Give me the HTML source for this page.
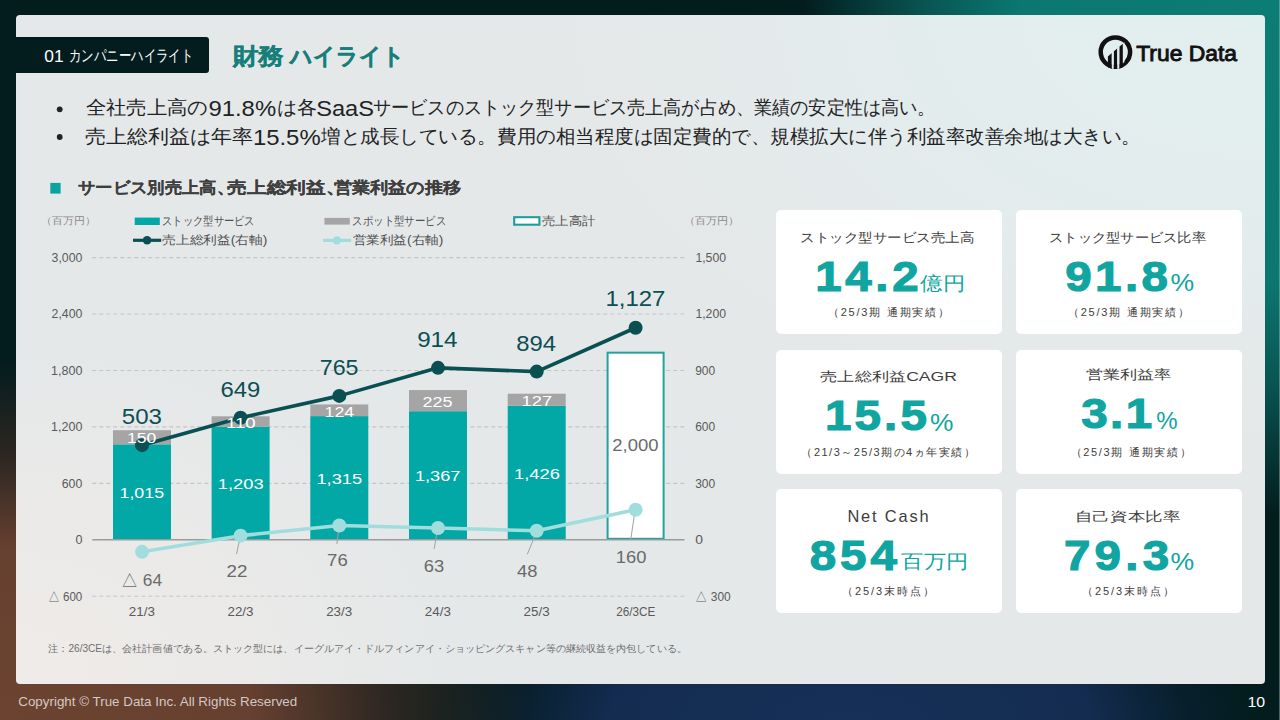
<!DOCTYPE html>
<html lang="ja">
<head>
<meta charset="utf-8">
<title>財務ハイライト</title>
<style>
*{margin:0;padding:0;box-sizing:border-box}
html,body{width:1280px;height:720px;overflow:hidden}
body{position:relative;font-family:"Liberation Sans",sans-serif;
background:
 radial-gradient(ellipse 520px 560px at 1280px 0px, #0c7d75 0%, #0b7770 50%, rgba(10,105,100,0.75) 68%, rgba(3,28,30,0) 92%),
 radial-gradient(ellipse 560px 380px at 0px 720px, #6c4330 0%, #664030 45%, rgba(70,45,35,0.6) 70%, rgba(3,28,30,0) 95%),
 radial-gradient(ellipse 400px 200px at 850px 730px, #163058 0%, #142c50 60%, rgba(14,36,64,0.4) 85%, rgba(3,28,30,0) 100%),
 #031c1e;}
.card{position:absolute;left:16px;top:15px;width:1248.5px;height:669px;border-radius:4px;
background:
 radial-gradient(ellipse 420px 330px at 0px 668px, #efebe8 0%, rgba(239,235,232,0.6) 50%, rgba(239,235,232,0) 100%),
 radial-gradient(ellipse 700px 420px at 1248px 0px, #e2efef 0%, rgba(226,239,239,0.6) 50%, rgba(226,239,239,0) 100%),
 #e5e8e9}
.tab{position:absolute;left:16px;top:37px;width:193px;height:36px;background:#031d1f;border-radius:0 3px 3px 0}
.kpi{position:absolute;width:226px;height:124px;background:#fff;border-radius:5px}
svg.ov{position:absolute;left:0;top:0}
</style>
</head>
<body>
<div class="card"></div>
<div class="tab"></div>
<div style="position:absolute;left:1279px;top:0;width:1px;height:720px;background:rgba(190,205,205,0.4)"></div>
<div class="kpi" style="left:776px;top:210px"></div>
<div class="kpi" style="left:1016px;top:210px"></div>
<div class="kpi" style="left:776px;top:350px"></div>
<div class="kpi" style="left:1016px;top:350px"></div>
<div class="kpi" style="left:776px;top:489px"></div>
<div class="kpi" style="left:1016px;top:489px"></div>
<svg class="ov" width="1280" height="720" viewBox="0 0 1280 720">
<line x1="92.3" y1="257.60" x2="684.5" y2="257.60" stroke="#c3c6c7" stroke-width="1.1" stroke-dasharray="4 3"/>
<line x1="92.3" y1="314.04" x2="684.5" y2="314.04" stroke="#c3c6c7" stroke-width="1.1" stroke-dasharray="4 3"/>
<line x1="92.3" y1="370.48" x2="684.5" y2="370.48" stroke="#c3c6c7" stroke-width="1.1" stroke-dasharray="4 3"/>
<line x1="92.3" y1="426.92" x2="684.5" y2="426.92" stroke="#c3c6c7" stroke-width="1.1" stroke-dasharray="4 3"/>
<line x1="92.3" y1="483.36" x2="684.5" y2="483.36" stroke="#c3c6c7" stroke-width="1.1" stroke-dasharray="4 3"/>
<line x1="92.3" y1="596.24" x2="684.5" y2="596.24" stroke="#c3c6c7" stroke-width="1.1" stroke-dasharray="4 3"/>
<rect x="113.00" y="444.32" width="58" height="95.48" fill="#01a8a6"/>
<rect x="113.00" y="430.21" width="58" height="14.11" fill="#a5a5a5"/>
<rect x="211.60" y="426.64" width="58" height="113.16" fill="#01a8a6"/>
<rect x="211.60" y="416.29" width="58" height="10.35" fill="#a5a5a5"/>
<rect x="310.30" y="416.10" width="58" height="123.70" fill="#01a8a6"/>
<rect x="310.30" y="404.44" width="58" height="11.66" fill="#a5a5a5"/>
<rect x="409.00" y="411.21" width="58" height="128.59" fill="#01a8a6"/>
<rect x="409.00" y="390.05" width="58" height="21.16" fill="#a5a5a5"/>
<rect x="507.70" y="405.66" width="58" height="134.14" fill="#01a8a6"/>
<rect x="507.70" y="393.71" width="58" height="11.95" fill="#a5a5a5"/>
<rect x="607.60" y="352.67" width="56" height="186.13" fill="#ffffff" stroke="#23a19e" stroke-width="2"/>
<line x1="92.3" y1="539.8" x2="684.5" y2="539.8" stroke="#999b9c" stroke-width="1.6"/>
<line x1="240.3" y1="536.6" x2="236.5" y2="554" stroke="#a3a3a3" stroke-width="1"/>
<line x1="339" y1="526.2" x2="336.9" y2="544" stroke="#a3a3a3" stroke-width="1"/>
<line x1="437.8" y1="528.1" x2="434.1" y2="549.1" stroke="#a3a3a3" stroke-width="1"/>
<line x1="536.6" y1="531.5" x2="527.3" y2="554.4" stroke="#a3a3a3" stroke-width="1"/>
<line x1="635.1" y1="510" x2="630.7" y2="540" stroke="#a3a3a3" stroke-width="1"/>
<polyline points="142.0,551.84 240.6,535.66 339.3,525.50 438.0,527.95 536.7,530.77 635.6,509.70" fill="none" stroke="#a2dddd" stroke-width="3.6" stroke-linejoin="round"/>
<circle cx="142.0" cy="551.84" r="7" fill="#a2dddd"/>
<circle cx="240.6" cy="535.66" r="7" fill="#a2dddd"/>
<circle cx="339.3" cy="525.50" r="7" fill="#a2dddd"/>
<circle cx="438.0" cy="527.95" r="7" fill="#a2dddd"/>
<circle cx="536.7" cy="530.77" r="7" fill="#a2dddd"/>
<circle cx="635.6" cy="509.70" r="7" fill="#a2dddd"/>
<polyline points="142.0,445.17 240.6,417.70 339.3,395.88 438.0,367.85 536.7,371.61 635.6,327.77" fill="none" stroke="#0a5052" stroke-width="3.6" stroke-linejoin="round"/>
<circle cx="142.0" cy="445.17" r="7" fill="#0a5052"/>
<circle cx="240.6" cy="417.70" r="7" fill="#0a5052"/>
<circle cx="339.3" cy="395.88" r="7" fill="#0a5052"/>
<circle cx="438.0" cy="367.85" r="7" fill="#0a5052"/>
<circle cx="536.7" cy="371.61" r="7" fill="#0a5052"/>
<circle cx="635.6" cy="327.77" r="7" fill="#0a5052"/>
<rect x="134.7" y="217.6" width="25.1" height="7.4" fill="#01a8a6"/>
<rect x="324.4" y="217.9" width="25.4" height="6.7" fill="#a5a5a5"/>
<rect x="514.2" y="217.2" width="25.2" height="7.5" fill="#ffffff" stroke="#1d9e9a" stroke-width="2.1"/>
<line x1="133" y1="240.3" x2="161.2" y2="240.3" stroke="#0a5052" stroke-width="3.2"/><circle cx="147.1" cy="240.3" r="4.3" fill="#0a5052"/>
<line x1="323.1" y1="240.4" x2="351" y2="240.4" stroke="#a2dddd" stroke-width="3.2"/><circle cx="337" cy="240.4" r="4.2" fill="#a2dddd"/>
<rect x="50.3" y="182.9" width="10.3" height="10.7" fill="#07a4a0"/>
<circle cx="59.7" cy="109.3" r="2.9" fill="#1e2324"/><circle cx="59.7" cy="137" r="2.9" fill="#1e2324"/>
<defs><clipPath id="lc"><circle cx="1115.4" cy="52.1" r="16.9"/></clipPath></defs>
<circle cx="1115.4" cy="52.1" r="14.7" fill="none" stroke="#111" stroke-width="4.5"/>
<g clip-path="url(#lc)">
<polygon points="1107.9,56.40 1111.8,53.09 1111.8,72 1107.9,72" fill="#111"/>
<polygon points="1113.7,51.47 1117.3,48.41 1117.3,72 1113.7,72" fill="#111"/>
<polygon points="1119.3,46.71 1122.9,43.65 1122.9,72 1119.3,72" fill="#111"/>
</g>
<g clip-path="url(#lc)" fill="#e3eded">
<polygon points="1111.8,53.09 1113.7,51.47 1113.7,72 1111.8,72"/>
<polygon points="1117.3,48.41 1119.3,46.71 1119.3,72 1117.3,72"/>
</g>
<polygon points="1122.9,43.65 1124.4,41.88 1124.4,62 1122.9,63.5" fill="#e3eded"/>
</svg>
<svg class="ov" width="1280" height="720" viewBox="0 0 1280 720" font-family="Liberation Sans, sans-serif">
<text x="44.25" y="61.55" font-size="16.15" font-weight="normal" fill="#ffffff" textLength="19.35" lengthAdjust="spacingAndGlyphs">01</text>
<text x="69.05" y="60.95" font-size="15.98" font-weight="normal" fill="#ffffff" textLength="124.20" lengthAdjust="spacingAndGlyphs">カンパニーハイライト</text>
<text x="232.70" y="64.20" font-size="23.20" font-weight="bold" fill="#177f7a" textLength="50.85" lengthAdjust="spacingAndGlyphs" stroke="#177f7a" stroke-width="0.40">財務</text>
<text x="290.25" y="64.20" font-size="23.20" font-weight="bold" fill="#177f7a" textLength="114.30" lengthAdjust="spacingAndGlyphs" stroke="#177f7a" stroke-width="0.40">ハイライト</text>
<text x="162.05" y="225.35" font-size="12.10" font-weight="normal" fill="#505050" textLength="92.70" lengthAdjust="spacingAndGlyphs">ストック型サービス</text>
<text x="352.35" y="225.35" font-size="12.10" font-weight="normal" fill="#505050" textLength="93.80" lengthAdjust="spacingAndGlyphs">スポット型サービス</text>
<text x="542.10" y="224.65" font-size="12.10" font-weight="normal" fill="#505050" textLength="53.20" lengthAdjust="spacingAndGlyphs">売上高計</text>
<text x="162.30" y="243.75" font-size="12.10" font-weight="normal" fill="#505050" textLength="105.10" lengthAdjust="spacingAndGlyphs">売上総利益(右軸)</text>
<text x="352.60" y="243.75" font-size="12.10" font-weight="normal" fill="#505050" textLength="90.80" lengthAdjust="spacingAndGlyphs">営業利益(右軸)</text>
<text x="41.10" y="224.40" font-size="9.82" font-weight="normal" fill="#8a8a8a" textLength="54.80" lengthAdjust="spacingAndGlyphs">（百万円）</text>
<text x="683.50" y="224.40" font-size="9.82" font-weight="normal" fill="#8a8a8a" textLength="56.15" lengthAdjust="spacingAndGlyphs">（百万円）</text>
<text x="800.35" y="242.45" font-size="13.32" font-weight="normal" fill="#3d3d3d" textLength="173.95" lengthAdjust="spacingAndGlyphs">ストック型サービス売上高</text>
<text transform="translate(815.25,290.55) scale(1.1,1)" font-size="43.18" font-weight="bold" fill="#10a5a0" textLength="93.93" lengthAdjust="spacing" stroke="#10a5a0" stroke-width="1.20">14.2</text>
<text x="920.40" y="290.15" font-size="18.86" font-weight="normal" fill="#10a5a0" textLength="44.80" lengthAdjust="spacingAndGlyphs">億円</text>
<text x="827.85" y="315.85" font-size="11.00" font-weight="normal" fill="#3d3d3d" textLength="121.05" lengthAdjust="spacing">（25/3期 通期実績）</text>
<text x="1049.15" y="242.45" font-size="13.32" font-weight="normal" fill="#3d3d3d" textLength="156.80" lengthAdjust="spacingAndGlyphs">ストック型サービス比率</text>
<text transform="translate(1065.30,290.55) scale(1.1,1)" font-size="43.18" font-weight="bold" fill="#10a5a0" textLength="93.34" lengthAdjust="spacing" stroke="#10a5a0" stroke-width="1.20">91.8</text>
<text x="1170.40" y="290.90" font-size="24.01" font-weight="normal" fill="#10a5a0" textLength="23.65" lengthAdjust="spacingAndGlyphs">%</text>
<text x="1067.85" y="315.85" font-size="11.00" font-weight="normal" fill="#3d3d3d" textLength="121.05" lengthAdjust="spacing">（25/3期 通期実績）</text>
<text x="820.25" y="381.30" font-size="13.32" font-weight="normal" fill="#3d3d3d" textLength="136.70" lengthAdjust="spacingAndGlyphs">売上総利益CAGR</text>
<text transform="translate(824.95,430.05) scale(1.1,1)" font-size="43.18" font-weight="bold" fill="#10a5a0" textLength="92.63" lengthAdjust="spacing" stroke="#10a5a0" stroke-width="1.20">15.5</text>
<text x="930.00" y="430.90" font-size="24.01" font-weight="normal" fill="#10a5a0" textLength="23.45" lengthAdjust="spacingAndGlyphs">%</text>
<text x="801.45" y="455.85" font-size="11.00" font-weight="normal" fill="#3d3d3d" textLength="173.05" lengthAdjust="spacing">（21/3～25/3期の4ヵ年実績）</text>
<text x="1085.80" y="378.95" font-size="13.32" font-weight="normal" fill="#3d3d3d" textLength="85.65" lengthAdjust="spacingAndGlyphs">営業利益率</text>
<text transform="translate(1081.20,428.05) scale(1.1,1)" font-size="43.18" font-weight="bold" fill="#10a5a0" textLength="64.54" lengthAdjust="spacing" stroke="#10a5a0" stroke-width="1.20">3.1</text>
<text x="1156.15" y="429.20" font-size="24.01" font-weight="normal" fill="#10a5a0" textLength="21.35" lengthAdjust="spacingAndGlyphs">%</text>
<text x="1070.55" y="455.85" font-size="11.00" font-weight="normal" fill="#3d3d3d" textLength="120.05" lengthAdjust="spacing">（25/3期 通期実績）</text>
<text x="847.45" y="521.95" font-size="16.40" font-weight="normal" fill="#3d3d3d" textLength="81.10" lengthAdjust="spacing">Net Cash</text>
<text transform="translate(809.65,569.55) scale(1.1,1)" font-size="43.18" font-weight="bold" fill="#10a5a0" textLength="79.42" lengthAdjust="spacing" stroke="#10a5a0" stroke-width="1.20">854</text>
<text x="901.20" y="567.90" font-size="18.86" font-weight="normal" fill="#10a5a0" textLength="66.95" lengthAdjust="spacingAndGlyphs">百万円</text>
<text x="842.05" y="594.60" font-size="11.00" font-weight="normal" fill="#3d3d3d" textLength="91.90" lengthAdjust="spacing">（25/3末時点）</text>
<text x="1074.90" y="520.55" font-size="13.32" font-weight="normal" fill="#3d3d3d" textLength="105.30" lengthAdjust="spacingAndGlyphs">自己資本比率</text>
<text transform="translate(1063.90,569.55) scale(1.1,1)" font-size="43.18" font-weight="bold" fill="#10a5a0" textLength="95.75" lengthAdjust="spacing" stroke="#10a5a0" stroke-width="1.20">79.3</text>
<text x="1170.40" y="569.90" font-size="24.01" font-weight="normal" fill="#10a5a0" textLength="23.65" lengthAdjust="spacingAndGlyphs">%</text>
<text x="1082.05" y="594.60" font-size="11.00" font-weight="normal" fill="#3d3d3d" textLength="91.90" lengthAdjust="spacing">（25/3末時点）</text>
<text x="48.25" y="652.00" font-size="10.00" font-weight="normal" fill="#6f6f6f" textLength="638.50" lengthAdjust="spacingAndGlyphs">注：26/3CEは、会社計画値である。ストック型には、イーグルアイ・ドルフィンアイ・ショッピングスキャン等の継続収益を内包している。</text>
<text x="18.25" y="705.65" font-size="12.23" font-weight="normal" fill="rgba(255,255,255,0.72)" textLength="279.00" lengthAdjust="spacingAndGlyphs">Copyright © True Data Inc. All Rights Reserved</text>
<text x="1247.55" y="707.30" font-size="15.17" font-weight="normal" fill="#ffffff" textLength="17.65" lengthAdjust="spacingAndGlyphs">10</text>
<text x="1136.25" y="61.45" font-size="22.34" font-weight="normal" fill="#111111" textLength="100.75" lengthAdjust="spacingAndGlyphs" stroke="#111111" stroke-width="0.90">True Data</text>
<text x="121.80" y="424.05" font-size="22.43" font-weight="normal" fill="#0b4f52" textLength="40.20" lengthAdjust="spacingAndGlyphs">503</text>
<text x="220.55" y="396.85" font-size="22.43" font-weight="normal" fill="#0b4f52" textLength="39.85" lengthAdjust="spacingAndGlyphs">649</text>
<text x="319.75" y="374.75" font-size="22.43" font-weight="normal" fill="#0b4f52" textLength="38.75" lengthAdjust="spacingAndGlyphs">765</text>
<text x="417.15" y="347.05" font-size="22.43" font-weight="normal" fill="#0b4f52" textLength="40.45" lengthAdjust="spacingAndGlyphs">914</text>
<text x="516.30" y="350.55" font-size="22.43" font-weight="normal" fill="#0b4f52" textLength="39.75" lengthAdjust="spacingAndGlyphs">894</text>
<text x="605.45" y="305.95" font-size="22.43" font-weight="normal" fill="#0b4f52" textLength="60.00" lengthAdjust="spacingAndGlyphs">1,127</text>
<text x="119.55" y="498.15" font-size="15.47" font-weight="normal" fill="#ffffff" textLength="44.50" lengthAdjust="spacingAndGlyphs">1,015</text>
<text x="217.80" y="489.05" font-size="15.47" font-weight="normal" fill="#ffffff" textLength="45.95" lengthAdjust="spacingAndGlyphs">1,203</text>
<text x="316.40" y="483.75" font-size="15.47" font-weight="normal" fill="#ffffff" textLength="45.80" lengthAdjust="spacingAndGlyphs">1,315</text>
<text x="414.90" y="480.85" font-size="15.47" font-weight="normal" fill="#ffffff" textLength="45.60" lengthAdjust="spacingAndGlyphs">1,367</text>
<text x="514.00" y="479.35" font-size="15.47" font-weight="normal" fill="#ffffff" textLength="45.90" lengthAdjust="spacingAndGlyphs">1,426</text>
<text x="127.05" y="442.95" font-size="15.47" font-weight="normal" fill="#ffffff" textLength="29.35" lengthAdjust="spacingAndGlyphs">150</text>
<text x="225.90" y="427.85" font-size="15.47" font-weight="normal" fill="#ffffff" textLength="29.75" lengthAdjust="spacingAndGlyphs">110</text>
<text x="324.55" y="416.55" font-size="15.47" font-weight="normal" fill="#ffffff" textLength="29.60" lengthAdjust="spacingAndGlyphs">124</text>
<text x="422.60" y="407.15" font-size="15.47" font-weight="normal" fill="#ffffff" textLength="30.05" lengthAdjust="spacingAndGlyphs">225</text>
<text x="521.60" y="406.05" font-size="15.47" font-weight="normal" fill="#ffffff" textLength="30.50" lengthAdjust="spacingAndGlyphs">127</text>
<text x="612.30" y="451.40" font-size="15.63" font-weight="normal" fill="#6a6a6a" textLength="46.25" lengthAdjust="spacingAndGlyphs">2,000</text>
<text x="120.75" y="585.50" font-size="17.07" font-weight="normal" fill="#6a6a6a" textLength="41.25" lengthAdjust="spacingAndGlyphs">△ 64</text>
<text x="226.50" y="576.70" font-size="17.07" font-weight="normal" fill="#6a6a6a" textLength="20.85" lengthAdjust="spacingAndGlyphs">22</text>
<text x="327.10" y="566.00" font-size="17.07" font-weight="normal" fill="#6a6a6a" textLength="20.60" lengthAdjust="spacingAndGlyphs">76</text>
<text x="423.70" y="571.60" font-size="17.07" font-weight="normal" fill="#6a6a6a" textLength="20.40" lengthAdjust="spacingAndGlyphs">63</text>
<text x="517.00" y="576.70" font-size="17.07" font-weight="normal" fill="#6a6a6a" textLength="20.45" lengthAdjust="spacingAndGlyphs">48</text>
<text x="615.80" y="563.00" font-size="17.07" font-weight="normal" fill="#6a6a6a" textLength="30.60" lengthAdjust="spacingAndGlyphs">160</text>
<text x="51.60" y="261.95" font-size="12.55" font-weight="normal" fill="#5a5a5a" textLength="30.85" lengthAdjust="spacingAndGlyphs">3,000</text>
<text x="51.60" y="318.39" font-size="12.55" font-weight="normal" fill="#5a5a5a" textLength="30.85" lengthAdjust="spacingAndGlyphs">2,400</text>
<text x="51.10" y="374.83" font-size="12.55" font-weight="normal" fill="#5a5a5a" textLength="31.35" lengthAdjust="spacingAndGlyphs">1,800</text>
<text x="51.10" y="431.27" font-size="12.55" font-weight="normal" fill="#5a5a5a" textLength="31.35" lengthAdjust="spacingAndGlyphs">1,200</text>
<text x="61.75" y="487.71" font-size="12.55" font-weight="normal" fill="#5a5a5a" textLength="20.55" lengthAdjust="spacingAndGlyphs">600</text>
<text x="75.40" y="544.15" font-size="12.55" font-weight="normal" fill="#5a5a5a" textLength="7.00" lengthAdjust="spacingAndGlyphs">0</text>
<text x="47.75" y="601.09" font-size="12.55" font-weight="normal" fill="#5a5a5a" textLength="34.55" lengthAdjust="spacingAndGlyphs">△ 600</text>
<text x="695.40" y="261.95" font-size="12.55" font-weight="normal" fill="#5a5a5a" textLength="30.65" lengthAdjust="spacingAndGlyphs">1,500</text>
<text x="695.40" y="318.39" font-size="12.55" font-weight="normal" fill="#5a5a5a" textLength="30.65" lengthAdjust="spacingAndGlyphs">1,200</text>
<text x="695.20" y="374.83" font-size="12.55" font-weight="normal" fill="#5a5a5a" textLength="20.00" lengthAdjust="spacingAndGlyphs">900</text>
<text x="695.20" y="431.27" font-size="12.55" font-weight="normal" fill="#5a5a5a" textLength="20.00" lengthAdjust="spacingAndGlyphs">600</text>
<text x="695.20" y="487.71" font-size="12.55" font-weight="normal" fill="#5a5a5a" textLength="20.00" lengthAdjust="spacingAndGlyphs">300</text>
<text x="695.20" y="544.15" font-size="12.55" font-weight="normal" fill="#5a5a5a" textLength="7.70" lengthAdjust="spacingAndGlyphs">0</text>
<text x="695.15" y="601.09" font-size="12.55" font-weight="normal" fill="#5a5a5a" textLength="35.55" lengthAdjust="spacingAndGlyphs">△ 300</text>
<text x="128.85" y="616.25" font-size="12.55" font-weight="normal" fill="#5a5a5a" textLength="26.10" lengthAdjust="spacingAndGlyphs">21/3</text>
<text x="227.45" y="616.25" font-size="12.55" font-weight="normal" fill="#5a5a5a" textLength="26.10" lengthAdjust="spacingAndGlyphs">22/3</text>
<text x="326.15" y="616.25" font-size="12.55" font-weight="normal" fill="#5a5a5a" textLength="26.10" lengthAdjust="spacingAndGlyphs">23/3</text>
<text x="424.85" y="616.25" font-size="12.55" font-weight="normal" fill="#5a5a5a" textLength="26.10" lengthAdjust="spacingAndGlyphs">24/3</text>
<text x="523.55" y="616.25" font-size="12.55" font-weight="normal" fill="#5a5a5a" textLength="26.10" lengthAdjust="spacingAndGlyphs">25/3</text>
<text x="616.20" y="616.20" font-size="12.55" font-weight="normal" fill="#5a5a5a" textLength="39.00" lengthAdjust="spacingAndGlyphs">26/3CE</text>
<text x="85.50" y="114.45" font-size="19.30" font-weight="normal" fill="#1e2324" textLength="122.35" lengthAdjust="spacingAndGlyphs">全社売上高の</text>
<text x="208.45" y="116.05" font-size="22.00" font-weight="normal" fill="#1e2324" textLength="67.70" lengthAdjust="spacingAndGlyphs">91.8%</text>
<text x="276.90" y="114.45" font-size="19.30" font-weight="normal" fill="#1e2324" textLength="39.95" lengthAdjust="spacingAndGlyphs">は各</text>
<text x="316.25" y="116.05" font-size="22.00" font-weight="normal" fill="#1e2324" textLength="57.75" lengthAdjust="spacingAndGlyphs">SaaS</text>
<text x="373.00" y="114.45" font-size="19.30" font-weight="normal" fill="#1e2324" textLength="562.40" lengthAdjust="spacingAndGlyphs">サービスのストック型サービス売上高が占め、業績の安定性は高い。</text>
<text x="85.25" y="143.20" font-size="19.30" font-weight="normal" fill="#1e2324" textLength="167.90" lengthAdjust="spacingAndGlyphs">売上総利益は年率</text>
<text x="252.95" y="144.80" font-size="22.00" font-weight="normal" fill="#1e2324" textLength="67.70" lengthAdjust="spacingAndGlyphs">15.5%</text>
<text x="321.40" y="143.20" font-size="19.30" font-weight="normal" fill="#1e2324" textLength="819.55" lengthAdjust="spacingAndGlyphs">増と成長している。費用の相当程度は固定費的で、規模拡大に伴う利益率改善余地は大きい。</text>
<text x="78.15" y="192.60" font-size="15.97" font-weight="bold" fill="#3e3e3e" textLength="155.85" lengthAdjust="spacingAndGlyphs" stroke="#3e3e3e" stroke-width="0.10">サービス別売上高、</text>
<text x="227.15" y="192.60" font-size="15.97" font-weight="bold" fill="#3e3e3e" textLength="118.25" lengthAdjust="spacingAndGlyphs" stroke="#3e3e3e" stroke-width="0.10">売上総利益、</text>
<text x="333.75" y="192.60" font-size="15.97" font-weight="bold" fill="#3e3e3e" textLength="127.25" lengthAdjust="spacingAndGlyphs" stroke="#3e3e3e" stroke-width="0.10">営業利益の推移</text>
</svg>
</body>
</html>
